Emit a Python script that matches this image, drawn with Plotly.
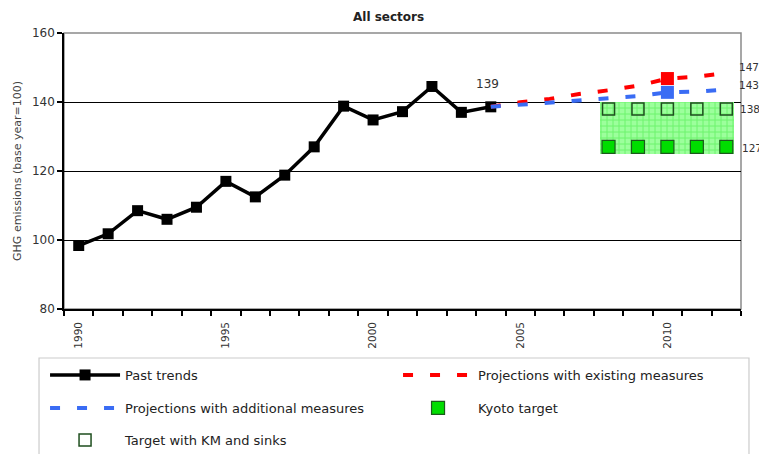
import plotly.graph_objects as go

# ---- data ----
past_years = list(range(1990, 2005))
past_values = [98.4, 101.8, 108.5, 106.0, 109.5, 117.0, 112.5, 118.8, 127.0, 138.8,
               134.8, 137.2, 144.5, 137.0, 138.6]

proj_years = list(range(2004, 2013))
proj_existing = [138.6, 139.9, 140.9, 142.3, 143.4, 144.7, 146.8, 147.3, 148.4]
proj_additional = [138.6, 139.2, 139.8, 140.6, 141.1, 141.7, 142.8, 143.0, 143.6]

marker_year = 2010
target_years = [2008, 2009, 2010, 2011, 2012]
kyoto_target = [127, 127, 127, 127, 127]
km_target = [138, 138, 138, 138, 138]

right_labels = [147, 143, 138, 127]

xtick_years = [1990, 1995, 2000, 2005, 2010]
xtick_labels = ["1990", "1995", "2000", "2005", "2010"]
ytick_vals = [80, 100, 120, 140, 160]

FONT = "DejaVu Sans, Verdana, sans-serif"

fig = go.Figure()

# Kyoto target band (hatched)
band_center = sum(target_years) / len(target_years)
band_width = (target_years[-1] - target_years[0]) + 0.55
band_base = min(kyoto_target) - 2
band_top = max(km_target) + 2
fig.add_trace(go.Bar(
    x=[band_center], y=[band_top - band_base], base=[band_base], width=[band_width],
    marker=dict(color="#8cff8c", line=dict(width=0),
                pattern=dict(shape="+", fgcolor="#3de83d", bgcolor="#9cff9c",
                             size=6, solidity=0.3)),
    showlegend=False, hoverinfo="skip"))

fig.add_trace(go.Scatter(
    x=past_years, y=past_values, name="Past trends", mode="lines+markers",
    line=dict(color="black", width=3.5),
    marker=dict(symbol="square", size=11, color="black"), legend="legend"))

fig.add_trace(go.Scatter(
    x=proj_years, y=proj_existing, name="Projections with existing measures",
    mode="lines", line=dict(color="#ff0000", width=4, dash="10px,17px"), legend="legend2"))

fig.add_trace(go.Scatter(
    x=proj_years, y=proj_additional, name="Projections with additional measures",
    mode="lines", line=dict(color="#3a6cf4", width=4, dash="10px,17px"), legend="legend3"))

idx = proj_years.index(marker_year)
fig.add_trace(go.Scatter(
    x=[marker_year], y=[proj_existing[idx]], mode="markers", showlegend=False,
    marker=dict(symbol="square", size=13, color="#ff0000")))
fig.add_trace(go.Scatter(
    x=[marker_year], y=[proj_additional[idx]], mode="markers", showlegend=False,
    marker=dict(symbol="square", size=13, color="#3a6cf4")))

fig.add_trace(go.Scatter(
    x=target_years, y=kyoto_target, name="Kyoto target", mode="markers",
    marker=dict(symbol="square", size=13, color="#00dd00",
                line=dict(color="#1c5a1c", width=1.2)), legend="legend4"))

fig.add_trace(go.Scatter(
    x=target_years, y=km_target, name="Target with KM and sinks", mode="markers",
    marker=dict(symbol="square", size=12, color="rgba(255,255,255,0)",
                line=dict(color="#1e4e1e", width=1.5)), legend="legend5"))

# annotations
ann = []
ann.append(dict(x=past_years[-1], y=past_values[-1], text=f"{round(past_values[-1]):d}",
                showarrow=False, yshift=23, xshift=-3,
                font=dict(family=FONT, size=12, color="#333")))
label_shift = {147: (11, -4), 143: (7, -4), 138: (0, -3), 127: (-1, -1)}
for val in right_labels:
    ys, xs = label_shift[val]
    ann.append(dict(x=1.0, xref="paper", y=val, yref="y", text=str(val),
                    showarrow=False, xanchor="left", xshift=xs, yshift=ys,
                    font=dict(family=FONT, size=10.5, color="#333")))
ann.append(dict(x=0.48, xref="paper", y=1, yref="paper", yanchor="middle", yshift=16,
                text="<b>All sectors</b>", showarrow=False,
                font=dict(family=FONT, size=12, color="#222")))

leg_common = dict(orientation="v", xanchor="left", yanchor="middle",
                  bgcolor="rgba(0,0,0,0)", borderwidth=0, itemwidth=70,
                  font=dict(family=FONT, size=13, color="#222"))
col1, col2 = -0.028, 0.4934
row1, row2, row3 = -0.2391, -0.3587, -0.4746

fig.update_layout(
    width=767, height=462,
    margin=dict(l=56, r=34, t=25, b=161),
    paper_bgcolor="white", plot_bgcolor="white",
    font=dict(family=FONT, color="#333"),
    annotations=ann,
    showlegend=True,
    legend=dict(x=col1, y=row1, **leg_common),
    legend2=dict(x=col2, y=row1, **leg_common),
    legend3=dict(x=col1, y=row2, **leg_common),
    legend4=dict(x=col2, y=row2, **leg_common),
    legend5=dict(x=col1, y=row3, **leg_common),
    shapes=[dict(type="rect", xref="paper", yref="paper", x0=0, x1=1, y0=0, y1=1,
                 line=dict(color="#8a8a8a", width=1.5), layer="below"),
            dict(type="rect", xref="paper", yref="paper", x0=-0.0369, x1=1.0118,
                 y0=-0.6, y1=-0.1775, line=dict(color="#cccccc", width=1.2),
                 layer="below")],
    xaxis=dict(range=[1989.5, 2012.5], tickmode="array", tickvals=xtick_years,
               ticktext=xtick_labels, tickangle=-90, ticks="", showgrid=False,
               showline=True, linecolor="black", linewidth=1.5, zeroline=False,
               tickfont=dict(family=FONT, size=10.5, color="#333"), ticklabelstandoff=7,
               minor=dict(tickmode="linear", tick0=1989.5, dtick=1, ticks="outside",
                          ticklen=5, tickcolor="black", tickwidth=1.5, showgrid=False)),
    yaxis=dict(range=[80, 160], tickvals=ytick_vals, ticks="outside", ticklen=5,
               tickcolor="black", tickwidth=1.5, showline=True, linecolor="black",
               linewidth=1.5, showgrid=True, gridcolor="black", gridwidth=1,
               zeroline=False, automargin=False,
               tickfont=dict(family=FONT, size=12, color="#333"),
               title=dict(text="GHG emissions (base year=100)",
                          font=dict(family=FONT, size=11, color="#444"), standoff=8)),
    bargap=0,
)

fig.write_html("out.html")
